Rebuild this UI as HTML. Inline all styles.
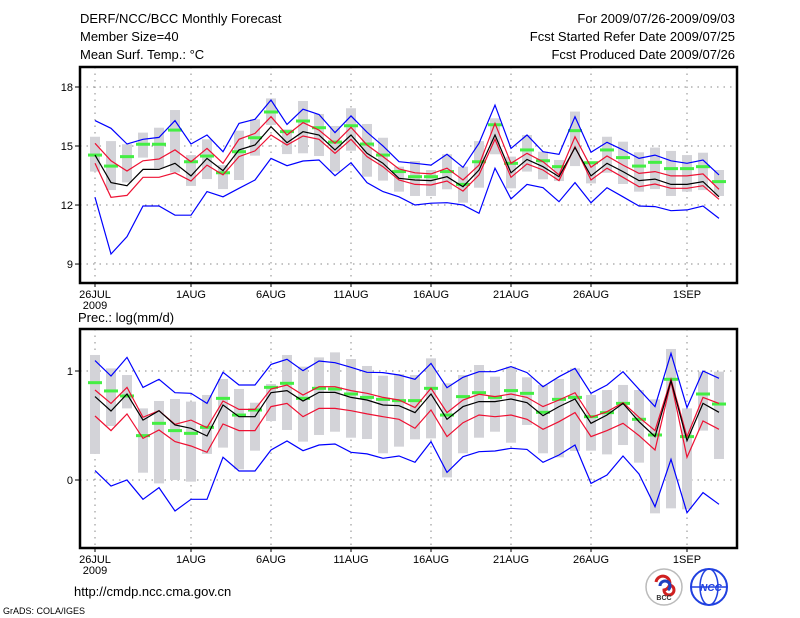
<!DOCTYPE html>
<html><head><meta charset="utf-8"><style>
html,body{margin:0;padding:0;background:#fff;}
svg{display:block;font-family:"Liberation Sans",sans-serif;}
</style></head><body>
<svg id="chart" width="800" height="618" viewBox="0 0 800 618" xmlns="http://www.w3.org/2000/svg">
<g font-size="13" fill="#000">
<text x="80" y="23">DERF/NCC/BCC Monthly Forecast</text>
<text x="80" y="41">Member Size=40</text>
<text x="80" y="59">Mean Surf. Temp.: °C</text>
<text x="735" y="23" text-anchor="end">For 2009/07/26-2009/09/03</text>
<text x="735" y="41" text-anchor="end">Fcst Started Refer Date 2009/07/25</text>
<text x="735" y="59" text-anchor="end">Fcst Produced Date 2009/07/26</text>
</g>
<text x="78" y="322" font-size="13">Prec.: log(mm/d)</text>
<text x="74" y="596" font-size="13">http://cmdp.ncc.cma.gov.cn</text>
<text x="3" y="614" font-size="9">GrADS: COLA/IGES</text>
<g>
<circle cx="664" cy="587" r="18" fill="#fff" stroke="#bbb" stroke-width="1.5"/>
<path d="M656 582 a7 7 0 1 1 8 8 a5 5 0 1 0 5 -5" fill="none" stroke="#d02020" stroke-width="3"/>
<path d="M660 586 a5 5 0 1 1 8 4" fill="none" stroke="#2040c0" stroke-width="3"/>
<text x="664" y="600" font-size="7" text-anchor="middle" font-weight="bold" fill="#333">BCC</text>
</g>
<g>
<circle cx="709" cy="587" r="18" fill="#fff" stroke="#2040e0" stroke-width="2"/>
<ellipse cx="709" cy="587" rx="9" ry="18" fill="none" stroke="#2040e0" stroke-width="1.5"/>
<line x1="691" y1="587" x2="727" y2="587" stroke="#2040e0" stroke-width="1.5"/>
<text x="711" y="591" font-size="10" text-anchor="middle" font-weight="bold" font-style="italic" fill="#2040e0">NCC</text>
</g>
<g id="top"></g>
<g id="bot"></g>
</svg>
<script>
const days = ["26JUL","1AUG","6AUG","11AUG","16AUG","21AUG","26AUG","1SEP"];
const tickDays = [0,6,11,16,21,26,31,37];
const tTicks = [9,12,15,18];
const pTicks = [0,1];
// Temperature series (40 days)
const tMax = [16.29,15.9,15.1,15.34,15.44,16.29,15.1,15.56,14.71,16.15,16.36,17.34,16.1,16.87,16.6,15.68,16.53,15.7,15.0,14.2,14.12,14.03,14.58,13.92,15.14,17.08,14.88,15.56,14.71,14.58,16.49,14.68,15.19,14.8,14.37,14.54,14.25,14.12,14.29,13.53];
const tMin = [12.39,9.51,10.39,11.95,11.95,11.48,11.48,12.68,12.42,12.85,13.27,14.37,14.0,14.24,14.29,13.49,14.15,13.14,12.68,12.42,12.0,12.09,12.12,12.0,11.58,13.87,12.31,13.05,12.88,12.17,13.14,12.12,12.88,12.42,11.95,11.92,11.71,11.75,11.95,11.32];
const tUp = [15.14,14.25,13.73,14.25,14.34,14.8,14.2,14.88,14.12,15.34,15.64,16.49,15.56,16.19,15.81,15.14,15.95,15.05,14.46,13.83,13.64,13.58,13.87,13.27,14.03,16.15,14.12,14.63,14.2,13.53,15.47,13.92,14.49,14.03,13.61,13.7,13.48,13.48,13.58,12.8];
const tLo = [14.12,12.39,12.49,13.41,13.41,13.64,13.22,14.03,13.53,14.46,14.75,15.56,15.05,15.51,15.34,14.63,15.34,14.46,13.95,13.27,13.05,13.02,13.22,12.71,13.53,15.34,13.41,14.09,13.78,13.24,14.97,13.27,13.87,13.41,12.93,13.07,12.85,12.85,12.98,12.29];
const tMean = [14.54,13.14,12.98,13.81,13.81,14.12,13.48,14.37,13.75,14.8,15.05,15.98,15.17,15.73,15.56,14.8,15.56,14.63,14.12,13.36,13.27,13.24,13.44,12.93,13.78,15.56,13.64,14.32,13.95,13.44,14.92,13.48,14.12,13.7,13.24,13.32,13.05,13.05,13.19,12.42];
const tMed = [14.54,13.98,14.46,15.09,15.09,15.81,14.2,14.49,13.64,14.71,15.42,16.73,15.73,16.27,15.93,15.2,16.03,15.1,14.54,13.7,13.44,13.44,13.7,13.05,14.2,16.08,14.12,14.8,14.25,13.95,15.78,14.15,14.8,14.41,13.98,14.17,13.85,13.85,13.95,13.19];
const tBoxHi = [15.47,15.25,15.09,15.68,15.93,16.83,14.54,15.34,14.03,15.78,16.36,17.42,15.85,17.29,16.63,16.02,16.92,16.12,15.42,13.95,14.24,13.78,14.58,13.95,15.25,16.41,14.46,15.56,14.71,14.29,16.75,14.2,15.47,15.22,14.68,14.92,14.75,14.54,14.66,13.78];
const tBoxLo = [13.7,12.76,13.15,14.41,13.87,13.66,12.97,13.32,12.81,13.27,14.51,16.07,14.59,14.63,14.49,13.7,14.76,13.44,13.24,12.68,12.46,12.46,12.8,12.12,12.88,14.58,12.85,13.7,13.31,13.22,13.98,13.1,13.64,13.07,12.68,12.81,12.46,12.68,12.76,12.46];
// Precipitation series (log mm/d)
const pMax = [1.095,0.954,1.125,0.85,0.924,0.801,0.795,0.703,0.988,0.872,0.872,1.061,1.107,1.003,1.092,1.076,1.034,0.988,0.985,0.963,0.924,1.07,0.847,0.942,0.994,0.994,1.04,0.985,0.856,0.948,1.024,0.795,0.872,0.994,0.832,0.673,1.162,0.664,1.0,0.933];
const pMin = [0.086,-0.055,0,-0.177,-0.07,-0.284,-0.177,-0.177,0.208,0.083,0.083,0.275,0.358,0.269,0.321,0.33,0.254,0.239,0.199,0.22,0.162,0.352,0.07,0.214,0.26,0.266,0.291,0.281,0.162,0.229,0.321,-0.031,0.046,0.22,0.055,-0.245,0.19,-0.3,-0.116,-0.223];
const pUp = [0.826,0.703,0.85,0.575,0.636,0.511,0.55,0.48,0.725,0.648,0.648,0.835,0.872,0.78,0.856,0.856,0.82,0.795,0.758,0.734,0.664,0.841,0.618,0.734,0.786,0.765,0.789,0.758,0.673,0.734,0.801,0.575,0.627,0.709,0.575,0.453,0.924,0.398,0.758,0.703];
const pLo = [0.587,0.453,0.606,0.382,0.459,0.352,0.312,0.254,0.514,0.453,0.453,0.673,0.703,0.581,0.657,0.657,0.636,0.606,0.581,0.557,0.474,0.642,0.398,0.526,0.596,0.581,0.596,0.557,0.465,0.535,0.618,0.398,0.453,0.52,0.407,0.275,0.902,0.208,0.541,0.465];
const pMean = [0.765,0.633,0.789,0.55,0.636,0.505,0.474,0.404,0.688,0.581,0.581,0.801,0.82,0.725,0.804,0.804,0.758,0.734,0.688,0.682,0.618,0.789,0.557,0.673,0.719,0.719,0.743,0.709,0.59,0.673,0.743,0.52,0.596,0.703,0.535,0.398,0.911,0.361,0.703,0.621];
const pMed = [0.893,0.817,0.771,0.407,0.52,0.453,0.428,0.483,0.749,0.596,0.642,0.85,0.887,0.749,0.841,0.835,0.789,0.758,0.74,0.728,0.728,0.841,0.596,0.765,0.801,0.758,0.82,0.795,0.621,0.74,0.758,0.581,0.618,0.703,0.557,0.413,0.924,0.398,0.789,0.697];
const pBoxHi = [1.147,1.024,0.963,0.657,0.725,0.743,0.719,0.78,0.927,0.835,0.709,0.881,1.147,1.04,1.125,1.171,1.11,1.046,0.957,0.972,0.963,1.116,0.887,0.963,1.055,0.948,1.04,0.942,0.872,0.927,1.024,0.78,0.826,0.872,0.826,0.74,1.202,0.657,0.994,0.994];
const pBoxLo = [0.239,0.495,0.657,0.067,-0.031,0,-0.015,0.239,0.297,0.098,0.269,0.541,0.459,0.352,0.413,0.443,0.388,0.376,0.245,0.306,0.373,0.382,0.024,0.245,0.388,0.443,0.342,0.505,0.245,0.208,0.266,0.269,0.235,0.321,0.159,-0.306,-0.26,-0.269,0.453,0.193];

const NS='http://www.w3.org/2000/svg';
function mk(parent, tag, attrs){const e=document.createElementNS(NS,tag);for(const k in attrs)e.setAttribute(k,attrs[k]);parent.appendChild(e);return e;}
const X0=80,X1=737;
function xDay(i){return 95+16*i;}

function panel(g, top, bottom, yFn, ticks, s, pre){
  // grid
  const grid=mk(g,'g',{});
  
  
  tickDays.forEach(d=>{const l=mk(grid,'line',{x1:xDay(d),x2:xDay(d),y1:top,y2:bottom,stroke:'#888','stroke-dasharray':'1.5,5'});
    
    });
  ticks.forEach(t=>{const y=yFn(t);const l=mk(grid,'line',{x1:X0,x2:X1,y1:y,y2:y,stroke:'#888','stroke-dasharray':'1.5,5'});
    
    
    const tk=mk(g,'line',{x1:75,x2:X0,y1:y,y2:y,stroke:'#000','stroke-width':1});
    
    
    const tx=mk(g,'text',{x:73,y:y+4,'text-anchor':'end','font-size':11});tx.textContent=t;
    
    });
  // boxes
  s.boxHi.forEach((v,i)=>{const y1=yFn(v),y2=yFn(s.boxLo[i]);
    const r=mk(g,'rect',{x:xDay(i)-5,y:Math.min(y1,y2),width:10,height:Math.abs(y2-y1),fill:'#d3d3d8'});
    
    });
  s.med.forEach((v,i)=>{const r=mk(g,'rect',{x:xDay(i)-7,y:yFn(v)-1.5,width:14,height:3,fill:'#44ee44'});
    
    });
  function line(arr,color,name){const pts=arr.map((v,i)=>xDay(i)+','+yFn(v).toFixed(1)).join(' ');
    const p=mk(g,'polyline',{points:pts,fill:'none',stroke:color,'stroke-width':1.2});
    
    }
  line(s.max,'#0000ff',pre+'-max-line');line(s.min,'#0000ff',pre+'-min-line');
  line(s.up,'#ee1133',pre+'-upper-line');line(s.lo,'#ee1133',pre+'-lower-line');
  line(s.mean,'#000',pre+'-mean-line');
  // frame
  const f=mk(g,'rect',{x:X0,y:top,width:X1-X0,height:bottom-top,fill:'none',stroke:'#000','stroke-width':2.5});
  
  
  tickDays.forEach((d,k)=>{const t=mk(g,'line',{x1:xDay(d),x2:xDay(d),y1:bottom,y2:bottom+4,stroke:'#000'});
    
    
    const tx=mk(g,'text',{x:xDay(d),y:bottom+15,'text-anchor':'middle','font-size':11});tx.textContent=days[k];
    
    });
  const yr=mk(g,'text',{x:xDay(0),y:bottom+26,'text-anchor':'middle','font-size':11});yr.textContent='2009';
  
  
}
const gt=document.getElementById('top');


panel(gt,67,283,v=>87+(18-v)*19.67,tTicks,{max:tMax,min:tMin,up:tUp,lo:tLo,mean:tMean,med:tMed,boxHi:tBoxHi,boxLo:tBoxLo},'temp');
const gb=document.getElementById('bot');


panel(gb,329,548,v=>480-109*v,pTicks,{max:pMax,min:pMin,up:pUp,lo:pLo,mean:pMean,med:pMed,boxHi:pBoxHi,boxLo:pBoxLo},'precip');
</script>
</body></html>
